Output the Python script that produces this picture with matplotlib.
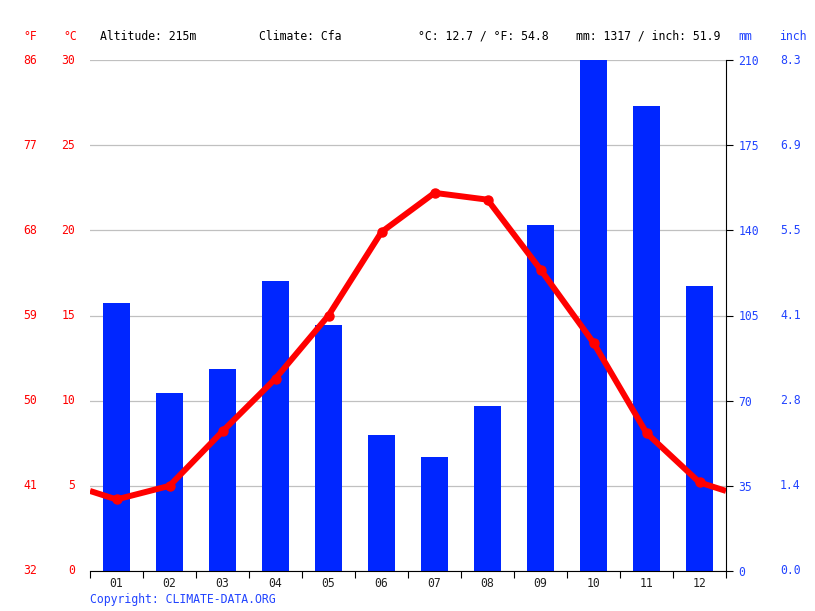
import matplotlib
matplotlib.use('Agg')
import matplotlib.pyplot as plt

months = ['01', '02', '03', '04', '05', '06', '07', '08', '09', '10', '11', '12']
temp_c = [4.2, 5.0, 8.2, 11.3, 15.0, 19.9, 22.2, 21.8, 17.7, 13.4, 8.1, 5.2]
rain_mm = [110, 73, 83, 119, 101, 56, 47, 68, 142, 210, 191, 117]

c_ticks = [0, 5, 10, 15, 20, 25, 30]
mm_ticks = [0, 35, 70, 105, 140, 175, 210]

RED = '#ff0000'
BLUE = '#0026ff'
TXT_BLUE = '#2244ff'

plt.rcParams['font.family'] = ['DejaVu Sans Mono']
FS = 8.3

fig = plt.figure(figsize=(8.15, 6.11), dpi=100)
ax = fig.add_axes([90 / 815, 1 - 571 / 611, 636 / 815, 511 / 611])
ax2 = ax.twinx()

# bars + grid on ax2, temperature line on ax (drawn above)
ax.set_zorder(ax2.get_zorder() + 1)
ax.patch.set_visible(False)

x = list(range(1, 13))
ax2.bar(x, rain_mm, width=0.51, color=BLUE, zorder=2)
ax2.set_ylim(0, 210)
ax2.set_yticks(mm_ticks)
ax2.set_yticklabels([str(v) for v in mm_ticks], color=TXT_BLUE, fontsize=FS)
ax2.tick_params(axis='y', direction='out', length=5, pad=4, colors='black',
                labelcolor=TXT_BLUE)
ax2.grid(axis='y', color='#c0c0c0', linewidth=0.9, zorder=0)
ax2.set_axisbelow(True)
for v in mm_ticks:
    ax2.text(1.085, v, f'{v / 25.4:.1f}', transform=ax2.get_yaxis_transform(),
             color=TXT_BLUE, fontsize=FS, ha='left', va='center')

edge = (temp_c[0] + temp_c[-1]) / 2
ax.plot([0.5] + x + [12.5], [edge] + temp_c + [edge], color=RED,
        linewidth=4.3, solid_joinstyle='round', solid_capstyle='butt', zorder=3)
ax.plot(x, temp_c, 'o', color=RED, markersize=6.5, zorder=4)
ax.set_ylim(0, 30)
ax.set_xlim(0.5, 12.5)
ax.set_yticks(c_ticks)
ax.set_yticklabels([])
ax.tick_params(axis='y', length=0)
for v in c_ticks:
    ax.text(-0.023, v, str(v), transform=ax.get_yaxis_transform(),
            color=RED, fontsize=FS, ha='right', va='center')
    ax.text(-0.094, v, f'{v * 9 / 5 + 32:.0f}', transform=ax.get_yaxis_transform(),
            color=RED, fontsize=FS, ha='center', va='center')

ax.set_xticks([i + 0.5 for i in range(0, 13)])
ax.set_xticklabels([])
ax.set_xticks(x, minor=True)
ax.set_xticklabels(months, minor=True, fontsize=FS, color='#222222')
ax.tick_params(axis='x', which='major', length=5, direction='out', color='black')
ax.tick_params(axis='x', which='minor', length=0, pad=4)

for a in (ax, ax2):
    a.spines['top'].set_visible(False)
    a.spines['left'].set_visible(False)
    a.spines['right'].set_visible(False)
ax2.spines['right'].set_visible(True)
ax2.spines['right'].set_color('black')
ax.spines['bottom'].set_color('black')
ax2.spines['bottom'].set_visible(False)
ax2.tick_params(axis='x', length=0)

mean_c = sum(temp_c) / len(temp_c)
total_mm = sum(rain_mm)
hy = 1 - 36 / 611
fig.text(30 / 815, hy, '°F', color=RED, fontsize=FS, ha='center', va='center')
fig.text(70 / 815, hy, '°C', color=RED, fontsize=FS, ha='center', va='center')
fig.text(100 / 815, hy, 'Altitude: 215m', fontsize=FS, va='center')
fig.text(259 / 815, hy, 'Climate: Cfa', fontsize=FS, va='center')
fig.text(418 / 815, hy, f'°C: {mean_c:.1f} / °F: {mean_c * 9 / 5 + 32:.1f}',
         fontsize=FS, va='center')
fig.text(576 / 815, hy, f'mm: {total_mm} / inch: {total_mm / 25.4:.1f}',
         fontsize=FS, va='center')
fig.text(738 / 815, hy, 'mm', color=TXT_BLUE, fontsize=FS, va='center')
fig.text(779 / 815, hy, 'inch', color=TXT_BLUE, fontsize=FS, va='center')
fig.text(90 / 815, 1 - 599 / 611, 'Copyright: CLIMATE-DATA.ORG', color=TXT_BLUE,
         fontsize=FS, va='center')

fig.savefig('out.png', dpi=100)
